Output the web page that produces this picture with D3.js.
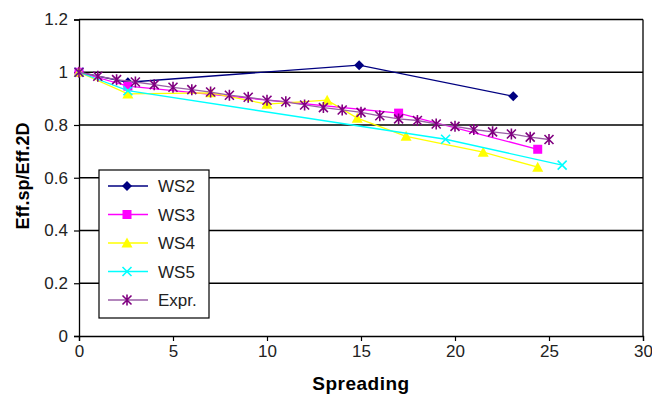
<!DOCTYPE html>
<html><head><meta charset="utf-8">
<script src="https://cdn.jsdelivr.net/npm/d3@7"></script>
<style>body{margin:0;background:#fff}svg{display:block;font-family:"Liberation Sans",Arial,sans-serif}</style>
</head><body>
<svg id="c" width="652" height="394"></svg>
<script>
const ws2X = [0, 2.6, 14.9, 23.1];
const ws2Y = [1.0, 0.962, 1.027, 0.909];
const ws3X = [0, 2.6, 17.0, 24.4];
const ws3Y = [1.0, 0.947, 0.845, 0.708];
const ws4X = [0, 2.6, 7.0, 10.0, 13.2, 14.8, 17.4, 21.5, 24.4];
const ws4Y = [1.0, 0.918, 0.922, 0.879, 0.894, 0.826, 0.757, 0.697, 0.64];
const ws5X = [0, 2.6, 19.5, 25.7];
const ws5Y = [1.0, 0.93, 0.746, 0.648];
const exprX = [0,1,2,3,4,5,6,7,8,9,10,11,12,13,14,15,16,17,18,19,20,21,22,23,24,25];
const exprY = [1.0,0.985,0.972,0.963,0.953,0.943,0.934,0.925,0.913,0.905,0.894,0.888,0.876,0.866,0.857,0.848,0.835,0.823,0.817,0.804,0.795,0.783,0.774,0.766,0.754,0.745];
const xTicks = [0,5,10,15,20,25,30];
const yTicks = [0,0.2,0.4,0.6,0.8,1,1.2];
const seriesNames = ["WS2","WS3","WS4","WS5","Expr."];

const svg = d3.select("#c");
const L=79, R=643, T=19.5, B=336;
const x = d3.scaleLinear().domain([0,30]).range([L,R]);
const y = d3.scaleLinear().domain([0,1.2]).range([B,T]);

// gridlines
svg.append("g").selectAll("line").data(yTicks.filter(d=>d>0)).join("line")
  .attr("x1",L).attr("x2",R).attr("y1",d=>y(d)).attr("y2",d=>y(d))
  .attr("stroke","#000").attr("stroke-width",1.3);
// right border
svg.append("line").attr("x1",R).attr("x2",R).attr("y1",T).attr("y2",B).attr("stroke","#000").attr("stroke-width",1.3);

const xAxis = svg.append("g").attr("transform",`translate(0,${B})`)
  .call(d3.axisBottom(x).tickValues(xTicks).tickSize(5).tickPadding(4).tickFormat(d3.format("d")));
const yAxis = svg.append("g").attr("transform",`translate(${L},0)`)
  .call(d3.axisLeft(y).tickValues(yTicks).tickSize(5).tickPadding(6).tickFormat(d=>String(+d.toFixed(1))));
[xAxis,yAxis].forEach(a=>{
  a.select(".domain").attr("stroke","#000").attr("stroke-width",1.3);
  a.selectAll(".tick line").attr("stroke","#000").attr("stroke-width",1.2);
  a.selectAll("text").attr("font-size",17).attr("fill","#222").attr("font-family","Liberation Sans, Arial, sans-serif");
});

svg.append("text").attr("x",361).attr("y",390).attr("text-anchor","middle")
  .attr("font-size",19).attr("font-weight","bold").attr("letter-spacing",0.5).text("Spreading");
svg.append("text").attr("transform",`translate(29,176) rotate(-90)`).attr("text-anchor","middle")
  .attr("font-size",18).attr("font-weight","bold").text("Eff.sp/Eff.2D");

const series = [
  {name:seriesNames[0], xs:ws2X, ys:ws2Y, line:"#000080", mark:"#000080", shape:"diamond"},
  {name:seriesNames[1], xs:ws3X, ys:ws3Y, line:"#ff00ff", mark:"#ff00ff", shape:"square"},
  {name:seriesNames[2], xs:ws4X, ys:ws4Y, line:"#ffff00", mark:"#ffff00", shape:"triangle"},
  {name:seriesNames[3], xs:ws5X, ys:ws5Y, line:"#00ffff", mark:"#00ffff", shape:"x"},
  {name:seriesNames[4], xs:exprX, ys:exprY, line:"#9a5ea6", mark:"#800080", shape:"star"}
];

function drawMarker(g, shape, cx, cy, color){
  if(shape==="diamond"){
    g.append("path").attr("d",`M${cx},${cy-5}L${cx+5},${cy}L${cx},${cy+5}L${cx-5},${cy}Z`).attr("fill",color);
  } else if(shape==="square"){
    g.append("rect").attr("x",cx-4.5).attr("y",cy-4.5).attr("width",9).attr("height",9).attr("fill",color);
  } else if(shape==="triangle"){
    g.append("path").attr("d",`M${cx},${cy-5.5}L${cx+5.5},${cy+4.5}L${cx-5.5},${cy+4.5}Z`).attr("fill",color);
  } else if(shape==="x"){
    g.append("path").attr("d",`M${cx-4.5},${cy-4.5}L${cx+4.5},${cy+4.5}M${cx-4.5},${cy+4.5}L${cx+4.5},${cy-4.5}`)
      .attr("stroke",color).attr("stroke-width",1.6).attr("fill","none");
  } else if(shape==="star"){
    g.append("path").attr("d",`M${cx-4.5},${cy-4.5}L${cx+4.5},${cy+4.5}M${cx-4.5},${cy+4.5}L${cx+4.5},${cy-4.5}M${cx},${cy-5.5}L${cx},${cy+5.5}`)
      .attr("stroke",color).attr("stroke-width",1.6).attr("fill","none");
  }
}

const lineGen = d3.line().x(d=>x(d[0])).y(d=>y(d[1]));
series.forEach(s=>{
  const pts = s.xs.map((v,i)=>[v,s.ys[i]]);
  const g = svg.append("g");
  g.append("path").datum(pts).attr("d",lineGen).attr("fill","none").attr("stroke",s.line).attr("stroke-width",1.3);
  pts.forEach(p=>drawMarker(g,s.shape,x(p[0]),y(p[1]),s.mark));
});

// legend
const lg = svg.append("g");
lg.append("rect").attr("x",99).attr("y",170).attr("width",110).attr("height",148)
  .attr("fill","#fff").attr("stroke","#000").attr("stroke-width",1.2);
series.forEach((s,i)=>{
  const yy = 186 + i*28.5;
  lg.append("line").attr("x1",108).attr("x2",148).attr("y1",yy).attr("y2",yy).attr("stroke",s.line).attr("stroke-width",1.3);
  drawMarker(lg,s.shape,127,yy,s.mark);
  lg.append("text").attr("x",158).attr("y",yy+6).attr("font-size",17).attr("fill","#222").text(s.name);
});
</script>
</body></html>
